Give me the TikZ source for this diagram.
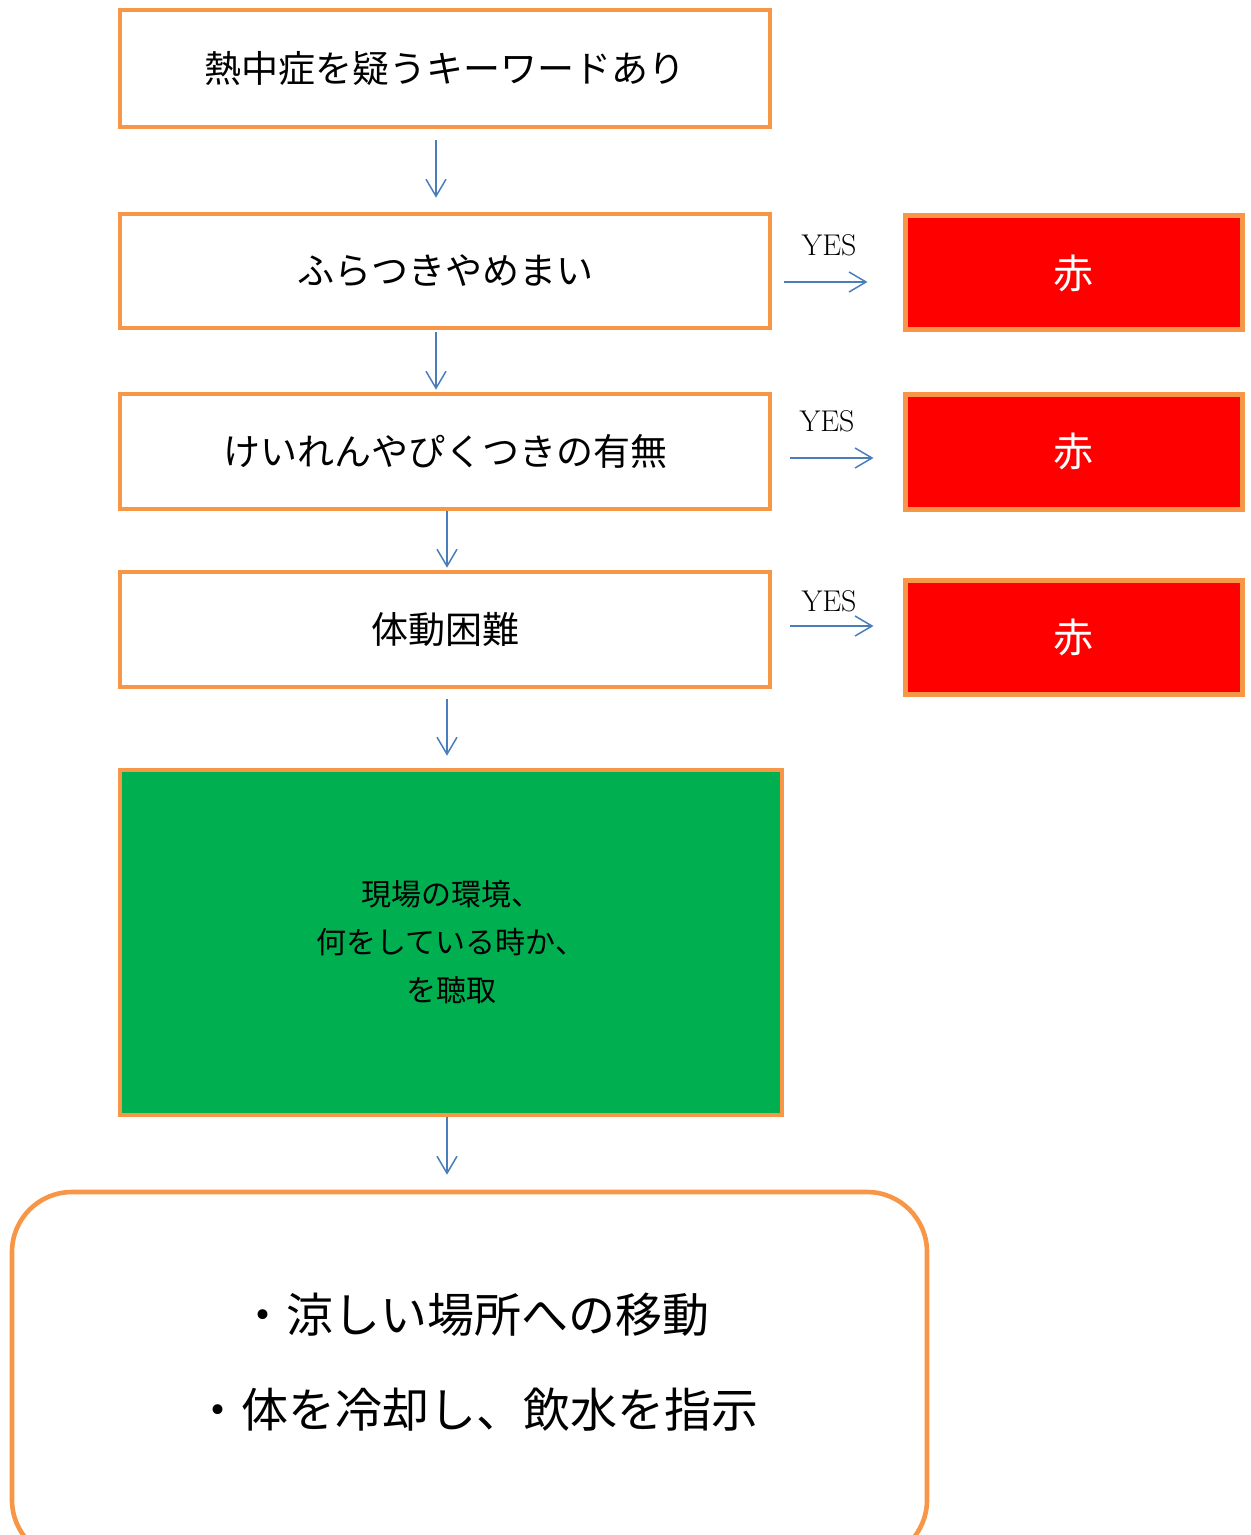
\documentclass[tikz,border=0pt]{standalone}
\usepackage{fontspec}
\newfontfamily\jp{Noto Sans CJK JP}
\usetikzlibrary{arrows.meta}
\definecolor{org}{HTML}{F79646}
\definecolor{arrblue}{HTML}{4A7EBB}
\definecolor{grn}{HTML}{00B050}
\definecolor{redfill}{HTML}{FF0000}
\tikzset{
  qbox/.style={draw=org, line width=2.3pt, fill=white, minimum width=325pt, inner sep=0pt,
    font=\jp\fontsize{18.5}{22}\selectfont},
  redbox/.style={draw=org, line width=2.5pt, fill=redfill, minimum width=168.5pt, minimum height=57pt,
    inner sep=0pt, text=white, font=\jp\fontsize{20}{24}\selectfont},
  arr/.style={draw=arrblue, line width=0.75pt, -{Straight Barb[length=8.5pt,width=10pt,line width=0.75pt]}},
  yeslbl/.style={font=\fontsize{15}{17}\selectfont, inner sep=0pt},
}
\begin{document}
\begin{tikzpicture}[x=0.5pt,y=-0.5pt]
\useasboundingbox (0,0) rectangle (1250,1535);
\clip (0,0) rectangle (1250,1535);
% main boxes
\node[qbox, minimum height=58.5pt] (b1) at (445,68.5) {熱中症を疑うキーワードあり};
\node[qbox, minimum height=57pt] (b2) at (445,271) {ふらつきやめまい};
\node[qbox, minimum height=57.5pt] (b3) at (445,451.5) {けいれんやぴくつきの有無};
\node[qbox, minimum height=57.5pt] (b4) at (445,629.5) {体動困難};
\node[draw=org, line width=2.3pt, fill=grn, minimum width=331pt, minimum height=172.5pt, inner sep=0pt,
  align=center, font=\jp\fontsize{15}{24}\selectfont] (g) at (451,942.5)
  {現場の環境、\\何をしている時か、\\を聴取};
\node[draw=org, line width=2.3pt, rounded corners=30pt, minimum width=457.5pt, minimum height=184pt, inner sep=0pt] (f) at (469.5,1376) {};
\node[font=\jp\fontsize{23.5}{28}\selectfont, inner sep=0pt] (f1) at (474,1315) {・涼しい場所への移動};
\node[font=\jp\fontsize{23.5}{28}\selectfont, inner sep=0pt] (f2) at (476,1410) {・体を冷却し、飲水を指示};
% red boxes
\node[redbox] (r1) at (1073.5,273) {赤};
\node[redbox, minimum height=57.5pt] (r2) at (1073.5,451.5) {赤};
\node[redbox] (r3) at (1073.5,637) {赤};
% YES labels
\node[yeslbl] (y1) at (829,245) {YES};
\node[yeslbl] (y2) at (827,421) {YES};
\node[yeslbl] (y3) at (829,601) {YES};
% vertical arrows
\draw[arr] ([xshift=-4.5pt,yshift=-5.5pt]b1.south) -- ([xshift=-4.5pt,yshift=7pt]b2.north);
\draw[arr] ([xshift=-4.5pt,yshift=-1pt]b2.south) -- ([xshift=-4.5pt,yshift=1pt]b3.north);
\draw[arr] ([xshift=1pt,yshift=0pt]b3.south) -- ([xshift=1pt,yshift=1pt]b4.north);
\draw[arr] ([xshift=1pt,yshift=-5pt]b4.south) -- ([xshift=-2pt,yshift=6pt]g.north);
\draw[arr] ([xshift=-2pt,yshift=0pt]g.south) -- ([xshift=-11.25pt,yshift=7.5pt]f.north);
% horizontal arrows
\draw[arr] ([xshift=6pt,yshift=-5.5pt]b2.east) -- ([xshift=-17.5pt,yshift=-4.5pt]r1.west);
\draw[arr] ([xshift=9pt,yshift=-3.25pt]b3.east) -- ([xshift=-14.5pt,yshift=-3.25pt]r2.west);
\draw[arr] ([xshift=9pt,yshift=1.75pt]b4.east) -- ([xshift=-14.5pt,yshift=5.5pt]r3.west);
\end{tikzpicture}
\end{document}
